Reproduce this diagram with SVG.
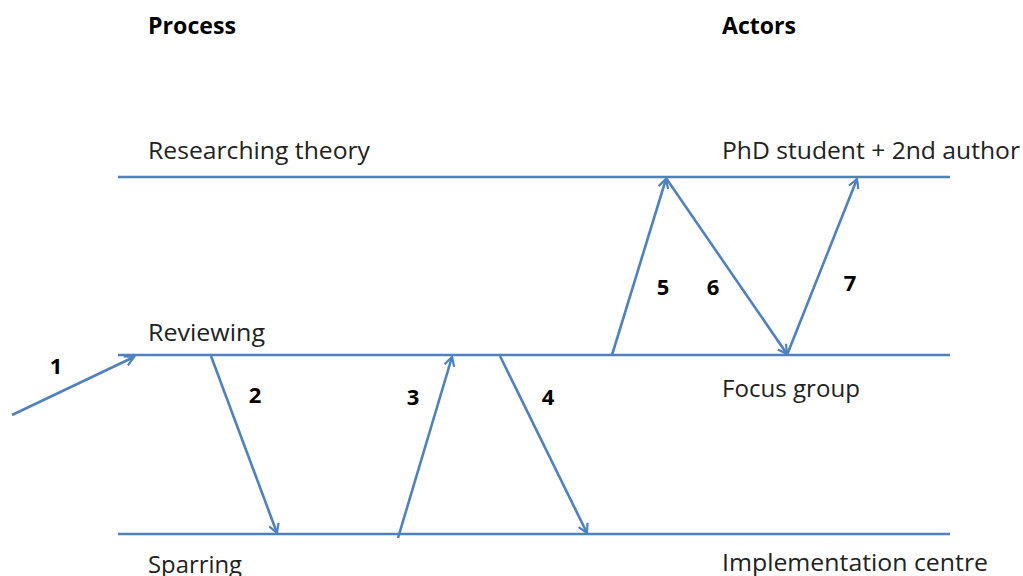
<svg xmlns="http://www.w3.org/2000/svg" width="1023" height="576" viewBox="0 0 1023 576">
<style>
.t{font-family:"Open Sans","Noto Sans",sans-serif;font-size:24px;fill:#222}
.b{font-family:"Open Sans","Noto Sans",sans-serif;font-size:23px;font-weight:bold;fill:#000}
.n{font-family:"Open Sans","Noto Sans",sans-serif;font-size:22px;font-weight:bold;fill:#000}
.ln{stroke:#4f81bd;stroke-width:2.6;fill:none}
.ar{stroke:#4f81bd;stroke-width:2.6;fill:none;marker-end:url(#ah)}
</style>
<defs>
<marker id="ah" viewBox="0 0 12 12" refX="10" refY="6" markerWidth="12" markerHeight="12" markerUnits="userSpaceOnUse" orient="auto">
<path d="M1,1 L10,6 L1,11" fill="none" stroke="#4f81bd" stroke-width="2.2"/>
</marker>
</defs>
<rect width="1023" height="576" fill="#fff"/>
<g id="headers">
<text class="b" x="148" y="34" textLength="88" lengthAdjust="spacingAndGlyphs">Process</text>
<text class="b" x="722" y="34" textLength="74" lengthAdjust="spacingAndGlyphs">Actors</text>
</g>
<g id="lane-theory">
<line class="ln" x1="118" y1="177" x2="950" y2="177"/>
<text class="t" x="148" y="159" textLength="222" lengthAdjust="spacingAndGlyphs">Researching theory</text>
<text class="t" x="722" y="159" textLength="298" lengthAdjust="spacingAndGlyphs">PhD student + 2nd author</text>
</g>
<g id="lane-reviewing">
<line class="ln" x1="118" y1="355" x2="950" y2="355"/>
<text class="t" x="148" y="341" textLength="117" lengthAdjust="spacingAndGlyphs">Reviewing</text>
<text class="t" x="722" y="397" textLength="138" lengthAdjust="spacingAndGlyphs">Focus group</text>
</g>
<g id="lane-sparring">
<line class="ln" x1="118" y1="534" x2="950" y2="534"/>
<text class="t" x="148" y="573" textLength="94" lengthAdjust="spacingAndGlyphs">Sparring</text>
<text class="t" x="722" y="571" textLength="266" lengthAdjust="spacingAndGlyphs">Implementation centre</text>
</g>
<g id="connectors">
<line class="ar" x1="12" y1="415" x2="134" y2="357"/>
<line class="ar" x1="211" y1="356" x2="277" y2="533"/>
<line class="ar" x1="398" y1="538" x2="452" y2="357"/>
<line class="ar" x1="500" y1="356" x2="587" y2="533"/>
<line class="ar" x1="612" y1="355" x2="666" y2="179"/>
<line class="ar" x1="666" y1="178" x2="787" y2="354"/>
<line class="ar" x1="787" y1="355" x2="857" y2="179"/>
</g>
<g id="labels">
<text class="n" x="56" y="374" text-anchor="middle">1</text>
<text class="n" x="255" y="403" text-anchor="middle">2</text>
<text class="n" x="413" y="405" text-anchor="middle">3</text>
<text class="n" x="548" y="405" text-anchor="middle">4</text>
<text class="n" x="663" y="295" text-anchor="middle">5</text>
<text class="n" x="713" y="295" text-anchor="middle">6</text>
<text class="n" x="850" y="291" text-anchor="middle">7</text>
</g>
</svg>
